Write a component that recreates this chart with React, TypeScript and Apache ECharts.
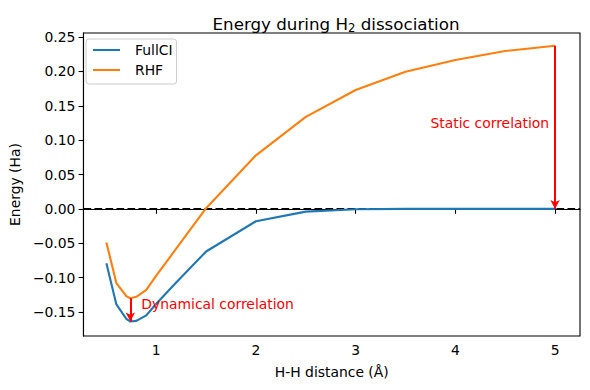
import React, { useEffect, useRef } from "react";
import * as echarts from "echarts";

const distances = [0.5, 0.6, 0.7, 0.74, 0.8, 0.9, 1.0, 1.2, 1.5, 2.0, 2.5, 3.0, 3.5, 4.0, 4.5, 5.0];
const fullCI = [-0.079, -0.139, -0.160, -0.164, -0.163, -0.155, -0.138, -0.107, -0.062, -0.018, -0.004, -0.0005, 0, 0, 0, 0];
const rhf = [-0.049, -0.108, -0.127, -0.130, -0.128, -0.118, -0.097, -0.058, 0.001, 0.078, 0.134, 0.173, 0.1996, 0.2166, 0.2297, 0.2374];
const xTicks = [1, 2, 3, 4, 5];
const yTicks = [-0.15, -0.1, -0.05, 0, 0.05, 0.1, 0.15, 0.2, 0.25];
const dynIndex = 3; // 0.74 Å
const staticIndex = distances.length - 1; // 5.0 Å
const dynLabelPos = [0.85, -0.1384];
const staticLabelPos = [3.75, 0.1243];

const FONT = "DejaVu Sans";
const FS = 13.9;

export default function App() {
  const ref = useRef<HTMLDivElement>(null);
  useEffect(() => {
    if (!ref.current) return;
    const chart = echarts.init(ref.current, undefined, { renderer: "svg" });
    const fmtY = (v: number) => (v < 0 ? "\u2212" : "") + Math.abs(v).toFixed(2);
    chart.setOption({
      animation: false,
      backgroundColor: "#ffffff",
      textStyle: { fontFamily: FONT },
      title: {
        text: "Energy during H{sub|2} dissociation",
        left: 331,
        textAlign: "center",
        top: 9,
        textStyle: {
          fontFamily: FONT,
          fontSize: 16.7,
          fontWeight: "normal",
          color: "#000",
          rich: {
            sub: { fontSize: 11.7, fontFamily: FONT, color: "#000", verticalAlign: "bottom", padding: [8, 0, 0, 0] },
          },
        },
      },
      legend: {
        data: [
          { name: "FullCI", icon: "rect" },
          { name: "RHF", icon: "rect" },
        ],
        orient: "vertical",
        left: 86,
        top: 39,
        padding: [4, 4, 7, 7],
        itemGap: 6,
        itemWidth: 27,
        itemHeight: 2.1,
        borderColor: "#cccccc",
        borderWidth: 1,
        borderRadius: 3,
        backgroundColor: "rgba(255,255,255,0.8)",
        textStyle: { fontFamily: FONT, fontSize: FS, color: "#000", padding: [0, 0, 0, 10], lineHeight: 14 },
      },
      grid: {
        left: 83,
        top: 33,
        width: 497,
        height: 303,
        show: true,
        borderColor: "#000",
        borderWidth: 1.1,
        backgroundColor: "transparent",
      },
      xAxis: {
        type: "value",
        min: 0.27,
        max: 5.25,
        name: "H-H distance (Å)",
        nameLocation: "middle",
        nameGap: 36,
        nameTextStyle: { fontFamily: FONT, fontSize: FS, color: "#000", verticalAlign: "middle" },
        axisLine: { show: true, lineStyle: { color: "#000", width: 1.1 } },
        axisTick: { show: true, length: 4.9, lineStyle: { color: "#000", width: 1.1 }, customValues: xTicks },
        axisLabel: { fontFamily: FONT, fontSize: FS, color: "#000", margin: 7, customValues: xTicks },
        splitLine: { show: false },
      },
      yAxis: {
        type: "value",
        min: -0.185,
        max: 0.256,
        name: "Energy (Ha)",
        nameLocation: "middle",
        nameRotate: 90,
        nameGap: 60,
        nameTextStyle: { fontFamily: FONT, fontSize: FS, color: "#000" },
        axisLine: { show: true, lineStyle: { color: "#000", width: 1.1 } },
        axisTick: { show: true, length: 4.9, lineStyle: { color: "#000", width: 1.1 }, customValues: yTicks },
        axisLabel: { fontFamily: FONT, fontSize: FS, color: "#000", margin: 8, formatter: fmtY, customValues: yTicks },
        splitLine: { show: false },
      },
      series: [
        {
          name: "FullCI",
          type: "line",
          data: distances.map((x, i) => [x, fullCI[i]]),
          symbol: "none",
          z: 3,
          lineStyle: { color: "#1f77b4", width: 2.1 },
          itemStyle: { color: "#1f77b4" },
          markLine: {
            z: 1,
            silent: true,
            symbol: ["none", "none"],
            label: { show: false },
            lineStyle: { color: "#000", width: 2.1, type: [7.7, 3.3] },
            data: [{ yAxis: 0 }],
          },
        },
        {
          name: "RHF",
          type: "line",
          data: distances.map((x, i) => [x, rhf[i]]),
          symbol: "none",
          z: 2,
          lineStyle: { color: "#ff7f0e", width: 2.1 },
          itemStyle: { color: "#ff7f0e" },
          markLine: {
            silent: true,
            symbol: ["none", "arrow"],
            symbolSize: [7, 9],
            label: { show: false },
            lineStyle: { color: "red", width: 2, type: "solid" },
            itemStyle: { color: "red" },
            data: [
              [
                { coord: [distances[dynIndex], rhf[dynIndex]] },
                { coord: [distances[dynIndex], fullCI[dynIndex]] },
              ],
              [
                { coord: [distances[staticIndex], rhf[staticIndex]] },
                { coord: [distances[staticIndex], fullCI[staticIndex]] },
              ],
            ],
          },
          markPoint: {
            silent: true,
            symbol: "circle",
            symbolSize: 0,
            itemStyle: { color: "transparent" },
            label: {
              show: true,
              position: "right",
              distance: 0,
              color: "red",
              fontFamily: FONT,
              fontSize: FS,
            },
            data: [
              { coord: dynLabelPos, label: { formatter: "Dynamical correlation" } },
              { coord: staticLabelPos, label: { formatter: "Static correlation" } },
            ],
          },
        },
      ],
    });
    return () => chart.dispose();
  }, []);
  return (
    <div
      ref={ref}
      style={{ position: "fixed", left: 0, top: 0, width: 590, height: 390, background: "#fff" }}
    />
  );
}
